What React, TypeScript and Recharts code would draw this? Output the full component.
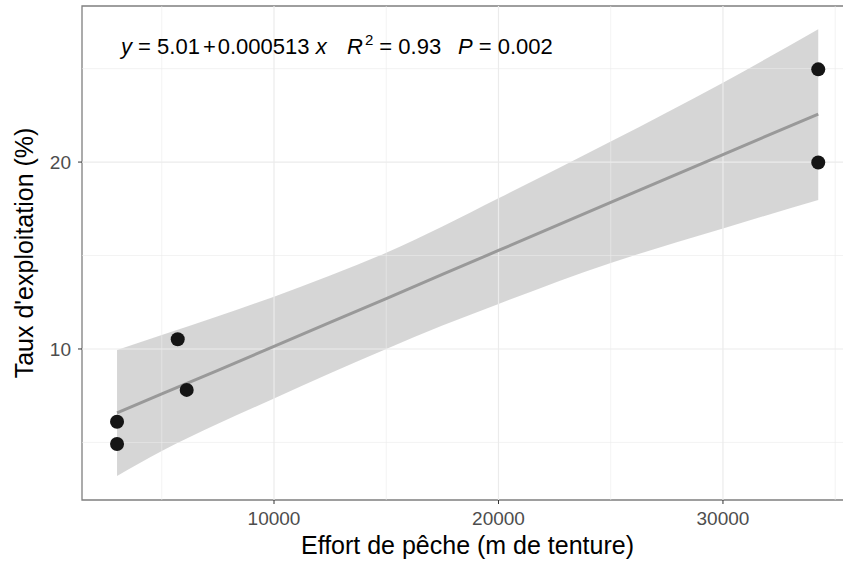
import { ComposedChart, Area, Line, Scatter, XAxis, YAxis, ReferenceLine, ReferenceArea } from 'recharts';

// observations
const effort = [3007, 3007, 5710, 6110, 34245, 34245];
const taux = [6.11, 4.92, 10.52, 7.81, 24.96, 19.98];

// fitted line and its confidence band
const fitX = [3007, 5000, 7500, 10000, 12500, 15000, 17500, 20000, 25000, 30000, 34245];
const fitY = [6.58, 7.6, 8.86, 10.14, 11.42, 12.7, 13.99, 15.27, 17.84, 20.4, 22.57];
const bandLow = [3.2, 4.54, 6.0, 7.35, 8.7, 10.0, 11.25, 12.41, 14.6, 16.45, 17.97];
const bandHigh = [9.95, 10.75, 11.75, 12.8, 13.93, 15.15, 16.55, 18.06, 21.1, 24.25, 27.1];

const xTicks = [10000, 20000, 30000];
const yTicks = [10, 20];
const xMinor = [5000, 15000, 25000, 35000];
const yMinor = [5, 15, 25];

const xDomain = [1446, 35793];
const yDomain = [1.92, 28.35];

const points = effort.map((x, i) => ({ x, y: taux[i] }));
const fitData = fitX.map((x, i) => ({ x, fit: fitY[i], band: [bandLow[i], bandHigh[i]] }));

const font = 'Liberation Sans, Arial, sans-serif';

const XTitle = ({ viewBox }: any) => (
  <text x={viewBox.x + viewBox.width / 2} y={554} textAnchor="middle" fontSize={25} fontFamily={font} fill="#000">
    Effort de pêche (m de tenture)
  </text>
);

const YTitle = ({ viewBox }: any) => {
  const cy = viewBox.y + viewBox.height / 2;
  return (
    <text x={33} y={cy} transform={`rotate(-90, 33, ${cy})`} textAnchor="middle" fontSize={25} fontFamily={font} fill="#000">
      Taux d'exploitation (%)
    </text>
  );
};

export default function App() {
  return (
    <div style={{ position: 'absolute', left: 0, top: 0, width: 843, height: 562, overflow: 'hidden', background: '#fff' }}>
      <ComposedChart width={854} height={562} data={fitData} margin={{ top: 6, right: 1, bottom: 0, left: 0 }}>
        {xMinor.map((v) => (
          <ReferenceLine key={'xm' + v} x={v} stroke="#EBEBEB" strokeWidth={0.6} />
        ))}
        {yMinor.map((v) => (
          <ReferenceLine key={'ym' + v} y={v} stroke="#EBEBEB" strokeWidth={0.6} />
        ))}
        {xTicks.map((v) => (
          <ReferenceLine key={'xM' + v} x={v} stroke="#EBEBEB" strokeWidth={1.2} />
        ))}
        {yTicks.map((v) => (
          <ReferenceLine key={'yM' + v} y={v} stroke="#EBEBEB" strokeWidth={1.2} />
        ))}
        <XAxis
          type="number"
          dataKey="x"
          domain={xDomain}
          ticks={xTicks}
          allowDataOverflow
          height={62}
          axisLine={false}
          tickSize={4}
          tickMargin={8}
          tickLine={{ stroke: '#333333' }}
          tick={{ fill: '#4D4D4D', fontSize: 19, fontFamily: font }}
          label={<XTitle />}
        />
        <YAxis
          type="number"
          domain={yDomain}
          ticks={yTicks}
          allowDataOverflow
          width={82}
          axisLine={false}
          tickSize={4}
          tickMargin={7}
          tickLine={{ stroke: '#333333' }}
          tick={{ fill: '#4D4D4D', fontSize: 19, fontFamily: font }}
          label={<YTitle />}
        />
        <Area
          type="monotone"
          dataKey="band"
          stroke="none"
          fill="#999999"
          fillOpacity={0.4}
          isAnimationActive={false}
        />
        <Line
          type="linear"
          dataKey="fit"
          stroke="#999999"
          strokeWidth={3}
          dot={false}
          isAnimationActive={false}
        />
        <Scatter data={points} dataKey="y" fill="#111111" shape={(p: any) => <circle cx={p.cx} cy={p.cy} r={7} fill="#151515" />} isAnimationActive={false} />
        <ReferenceArea x1={xDomain[0]} x2={xDomain[1]} y1={yDomain[0]} y2={yDomain[1]} fill="none" stroke="#7F7F7F" strokeWidth={1.3} ifOverflow="visible" />
      </ComposedChart>
      <svg width={843} height={80} style={{ position: 'absolute', left: 0, top: 0, pointerEvents: 'none' }}>
        <g fontFamily={font} fontSize={22} fill="#000">
          <text x={121} y={54}>
            <tspan fontStyle="italic">y</tspan>
            <tspan> = 5.01</tspan>
            <tspan dx={3}>+</tspan>
            <tspan dx={2}>0.000513 </tspan>
            <tspan fontStyle="italic">x</tspan>
          </text>
          <text x={347} y={54}>
            <tspan fontStyle="italic">R</tspan>
            <tspan dx={2} dy={-9} fontSize={15}>2</tspan>
            <tspan dy={9}> = 0.93</tspan>
          </text>
          <text x={458} y={54}>
            <tspan fontStyle="italic">P</tspan>
            <tspan> = 0.002</tspan>
          </text>
        </g>
      </svg>
    </div>
  );
}
